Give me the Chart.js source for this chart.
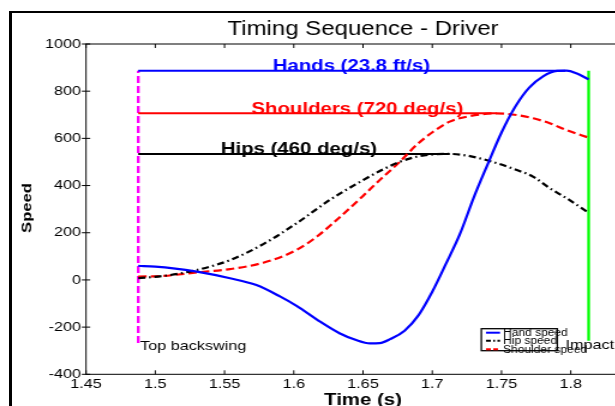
<!DOCTYPE html>
<html>
<head>
<meta charset="utf-8">
<title>Timing Sequence - Driver</title>
<script src="https://cdn.jsdelivr.net/npm/chart.js@4.4.1/dist/chart.umd.min.js"></script>
<style>
  html, body { margin: 0; padding: 0; background: #fff; overflow: hidden; }
  #wrap { position: relative; width: 615px; height: 406px; overflow: hidden; background: #fff; }
  #frame { position: absolute; left: 9px; top: 11px; width: 800px; height: 600px;
           border-left: 3px solid #000; border-top: 2px solid #000; }
  #chart { position: absolute; left: 0; top: 0; transform: scaleX(1.2); transform-origin: 0 0; }
</style>
</head>
<body>
<div id="wrap">
  <div id="frame"></div>
  <canvas id="chart" width="560" height="430"></canvas>
</div>
<script>
// values
const handTime = [1.4877, 1.500, 1.513, 1.530, 1.554, 1.573, 1.590, 1.602, 1.619, 1.633,
                  1.645, 1.655, 1.662, 1.670, 1.680, 1.690, 1.700, 1.710, 1.720, 1.730,
                  1.740, 1.750, 1.760, 1.770, 1.780, 1.790, 1.797, 1.804, 1.8129];
const handSpeed = [60, 56, 49, 35, 7, -22, -70, -110, -177, -226,
                   -255, -269, -268, -250, -215, -150, -50, 70, 195, 350,
                   490, 625, 735, 815, 863, 886, 887, 876, 850];

const hipTime = [1.4877, 1.506, 1.530, 1.554, 1.578, 1.602, 1.626, 1.650, 1.665, 1.6766,
                 1.6886, 1.7006, 1.7126, 1.725, 1.7415, 1.761, 1.773, 1.785, 1.797, 1.8129];
const hipSpeed = [7, 17, 42, 84, 152, 240, 339, 423, 470, 501,
                  522, 532, 534, 527, 504, 466, 437, 388, 346, 285];

const shoulderTime = [1.4877, 1.506, 1.530, 1.554, 1.578, 1.602, 1.617, 1.633, 1.650, 1.662,
                      1.6766, 1.6886, 1.7006, 1.7126, 1.725, 1.7463, 1.761, 1.773, 1.7848, 1.797, 1.8129];
const shoulderSpeed = [14, 17, 32, 46, 73, 127, 185, 265, 356, 423,
                       501, 572, 628, 671, 692, 706, 699, 685, 664, 635, 603];

const seriesNames = ['Hand speed', 'Hip speed', 'Shoulder speed'];

// peak marker lines (hands, shoulders, hips)
const peakLabels = ['Hands (23.8 ft/s)', 'Shoulders (720 deg/s)', 'Hips (460 deg/s)'];
const peakValues = [887, 706, 534];
const peakTimes = [1.796, 1.7463, 1.7126];

const topBackswingTime = 1.4877;
const topBackswingRange = [-267, 887];
const impactTime = 1.8129;
const impactRange = [-258, 887];

const xTicks = [1.45, 1.5, 1.55, 1.6, 1.65, 1.7, 1.75, 1.8, 1.85];
const yTicks = [-400, -200, 0, 200, 400, 600, 800, 1000];

const FONT = "'Liberation Sans', Arial, Helvetica, sans-serif";
Chart.defaults.font.family = FONT;

function pts(xs, ys) {
    return xs.map(function (x, i) { return { x: x, y: ys[i] }; });
}

const peakColors = ['#0000ff', '#ff0000', '#000000'];
const curveStyles = [
    { color: '#0000ff', dash: [] },
    { color: '#000000', dash: [6, 3, 1.5, 3] },
    { color: '#ff0000', dash: [7, 3.5] }
];

let datasets = [
    { label: seriesNames[0], data: pts(handTime, handSpeed) },
    { label: seriesNames[1], data: pts(hipTime, hipSpeed) },
    { label: seriesNames[2], data: pts(shoulderTime, shoulderSpeed) }
].map(function (d, i) {
    return Object.assign(d, {
        borderColor: curveStyles[i].color,
        borderDash: curveStyles[i].dash,
        borderWidth: 2.2,
        pointRadius: 0,
        cubicInterpolationMode: 'monotone',
        fill: false
    });
});

peakValues.forEach(function (v, i) {
    datasets.push({
        label: 'peak ' + i,
        data: [{ x: topBackswingTime, y: v }, { x: peakTimes[i], y: v }],
        borderColor: peakColors[i], borderWidth: 2, pointRadius: 0, fill: false
    });
});

datasets.push({
    label: 'Top backswing',
    data: [{ x: topBackswingTime, y: topBackswingRange[0] }, { x: topBackswingTime, y: topBackswingRange[1] }],
    borderColor: '#ff00ff', borderWidth: 2.4, borderDash: [7, 3], pointRadius: 0, fill: false
});
datasets.push({
    label: 'Impact',
    data: [{ x: impactTime, y: impactRange[0] }, { x: impactTime, y: impactRange[1] }],
    borderColor: '#00ff00', borderWidth: 2.3, pointRadius: 0, fill: false
});

function line(ctx, x1, y1, x2, y2) {
    ctx.beginPath();
    ctx.moveTo(x1, y1);
    ctx.lineTo(x2, y2);
    ctx.stroke();
}

const decorations = {
    id: 'decorations',
    afterDatasetsDraw(chart) {
        const ctx = chart.ctx;
        const a = chart.chartArea;
        const x = chart.scales.x, y = chart.scales.y;
        ctx.save();

        // axes box and ticks
        ctx.strokeStyle = '#000';
        ctx.lineWidth = 1;
        ctx.strokeRect(a.left, a.top, a.right - a.left, a.bottom - a.top);
        xTicks.forEach(function (v) {
            const px = x.getPixelForValue(v);
            line(ctx, px, a.bottom, px, a.bottom - 4);
            line(ctx, px, a.top, px, a.top + 4);
        });
        yTicks.forEach(function (v) {
            const py = y.getPixelForValue(v);
            line(ctx, a.left - 3.5, py, a.left + 3.5, py);
        });

        // peak labels
        ctx.font = 'bold 17px ' + FONT;
        ctx.textAlign = 'center';
        ctx.textBaseline = 'alphabetic';
        const peakLabelAt = [1.6416, 1.6459, 1.6037];
        peakLabels.forEach(function (t, i) {
            ctx.fillStyle = peakColors[i];
            ctx.fillText(t, x.getPixelForValue(peakLabelAt[i]), y.getPixelForValue(peakValues[i]) + 0.3);
        });

        // event labels
        ctx.font = '13.5px ' + FONT;
        ctx.fillStyle = '#000';
        ctx.textAlign = 'left';
        ctx.fillText('Top backswing', x.getPixelForValue(topBackswingTime) + 1.5, y.getPixelForValue(-295));
        ctx.fillText('Impact', x.getPixelForValue(1.7963), y.getPixelForValue(-293));

        // title
        const cx = (a.left + a.right) / 2;
        ctx.textAlign = 'center';
        ctx.font = '20px ' + FONT;
        ctx.fillText('Timing Sequence - Driver', cx, 35);

        // axis titles
        ctx.font = 'bold 17px ' + FONT;
        ctx.fillText('Time (s)', cx, 405);

        ctx.save();
        ctx.translate(23.3, 208);
        ctx.rotate(-Math.PI / 2);
        ctx.scale(1.28, 0.86);
        ctx.font = 'bold 13px ' + FONT;
        ctx.textBaseline = 'middle';
        ctx.fillText('Speed', 0, 0);
        ctx.restore();

        // legend
        ctx.lineWidth = 1.3;
        ctx.strokeStyle = '#000';
        ctx.strokeRect(401.1, 328.7, 63.3, 22);
        const rows = [332.7, 340.7, 349.3];
        ctx.font = '10px ' + FONT;
        ctx.textAlign = 'left';
        ctx.textBaseline = 'middle';
        for (let i = 0; i < 3; i++) {
            const ds = chart.data.datasets[i];
            ctx.strokeStyle = ds.borderColor;
            ctx.lineWidth = 2;
            ctx.setLineDash(ds.borderDash.length ? [4, 2, 1.5, 2].slice(0, ds.borderDash.length) : []);
            line(ctx, 405, rows[i], 416.7, rows[i]);
            ctx.setLineDash([]);
            ctx.fillStyle = '#000';
            ctx.fillText(ds.label, 419.2, rows[i] + 0.5);
        }
        ctx.restore();
    }
};

new Chart(document.getElementById('chart'), {
    type: 'line',
    data: { datasets: datasets },
    options: {
        responsive: false,
        animation: false,
        events: [],
        layout: { padding: { left: 0, top: 44, right: 26.67, bottom: 35.7 } },
        plugins: {
            legend: { display: false },
            title: { display: false },
            tooltip: { enabled: false }
        },
        scales: {
            x: {
                type: 'linear',
                min: 1.45,
                max: 1.85,
                afterFit: function (s) { s.height = 20; },
                afterBuildTicks: function (s) { s.ticks = xTicks.map(function (v) { return { value: v }; }); },
                grid: { display: false, drawTicks: false },
                border: { display: false },
                ticks: {
                    color: '#000',
                    font: { size: 13.5 },
                    padding: 2,
                    maxRotation: 0,
                    autoSkip: false,
                    callback: function (v) { return String(+Number(v).toFixed(2)); }
                }
            },
            y: {
                type: 'linear',
                min: -400,
                max: 1000,
                afterFit: function (s) { s.width = 71.67; },
                afterBuildTicks: function (s) { s.ticks = yTicks.map(function (v) { return { value: v }; }); },
                grid: { display: false, drawTicks: false },
                border: { display: false },
                ticks: {
                    color: '#000',
                    font: { size: 13.5 },
                    padding: 4.2,
                    callback: function (v) { return String(v); }
                }
            }
        }
    },
    plugins: [decorations]
});
</script>
</body>
</html>
